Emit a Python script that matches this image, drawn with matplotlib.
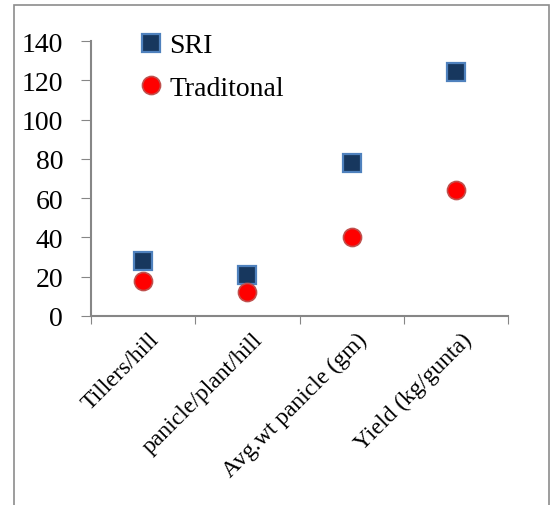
import matplotlib
matplotlib.use("Agg")
import matplotlib.pyplot as plt
import matplotlib.transforms as mtransforms
from matplotlib.patches import Rectangle

categories = ["Tillers/hill", "panicle/plant/hill", "Avg.wt panicle (gm)", "Yield (kg/gunta)"]
sri = [28, 21, 78, 124]
traditional = [18, 12, 40, 64]
yticks = [0, 20, 40, 60, 80, 100, 120, 140]

W, H = 552, 506
fig = plt.figure(figsize=(W / 100, H / 100), dpi=100)
plt.rcParams['font.family'] = ['Liberation Serif', 'DejaVu Serif']

# outer frame
fig.patches.append(Rectangle((14 / W, -0.05), (549 - 14) / W, 1.05 - 6 / H,
                             transform=fig.transFigure, fill=False,
                             edgecolor="#8c8c8c", linewidth=1.2))

ax = fig.add_axes([91 / W, 1 - 317 / H, (508 - 91) / W, (317 - 42) / H])
x = list(range(len(categories)))
ax.plot(x, sri, linestyle="none", marker="s", markersize=12.5,
        markerfacecolor="#17375E", markeredgecolor="#4F81BD", markeredgewidth=1.6,
        label="SRI", zorder=3)
ax.plot(x, traditional, linestyle="none", marker="o", markersize=13,
        markerfacecolor="#FF0000", markeredgecolor="#C0504D", markeredgewidth=1.2,
        label="Traditonal", zorder=3)

ax.set_xlim(-0.5, len(categories) - 0.5)
ax.set_ylim(0, 140)
ax.set_yticks(yticks)
ax.set_yticklabels([str(v) for v in yticks], fontsize=20)
ax.set_xticks([i - 0.5 for i in range(len(categories) + 1)])
ax.set_xticklabels([])
ax.set_xticks(x, minor=True)
ax.set_xticklabels(categories, minor=True, rotation=45, ha="right", va="top",
                   rotation_mode="anchor", fontsize=17)
ax.tick_params(axis="x", which="minor", length=0, pad=9)
ax.tick_params(axis="x", which="major", length=6, color="#868686", direction="out")
ax.tick_params(axis="y", length=7, color="#868686", direction="out", pad=13)
offset = mtransforms.ScaledTranslation(5 / 100, 0, fig.dpi_scale_trans)
for lbl in ax.get_xticklabels(minor=True):
    lbl.set_transform(lbl.get_transform() + offset)

for s in ["top", "right"]:
    ax.spines[s].set_visible(False)
for s in ["left", "bottom"]:
    ax.spines[s].set_color("#868686")
    ax.spines[s].set_linewidth(1.5)

leg = ax.legend(loc="upper left", bbox_to_anchor=(0.095, 1.07), frameon=False,
                fontsize=20, handlelength=0.7, handletextpad=0.3,
                labelspacing=0.62, borderaxespad=0)

fig.savefig("out.png", dpi=100)
